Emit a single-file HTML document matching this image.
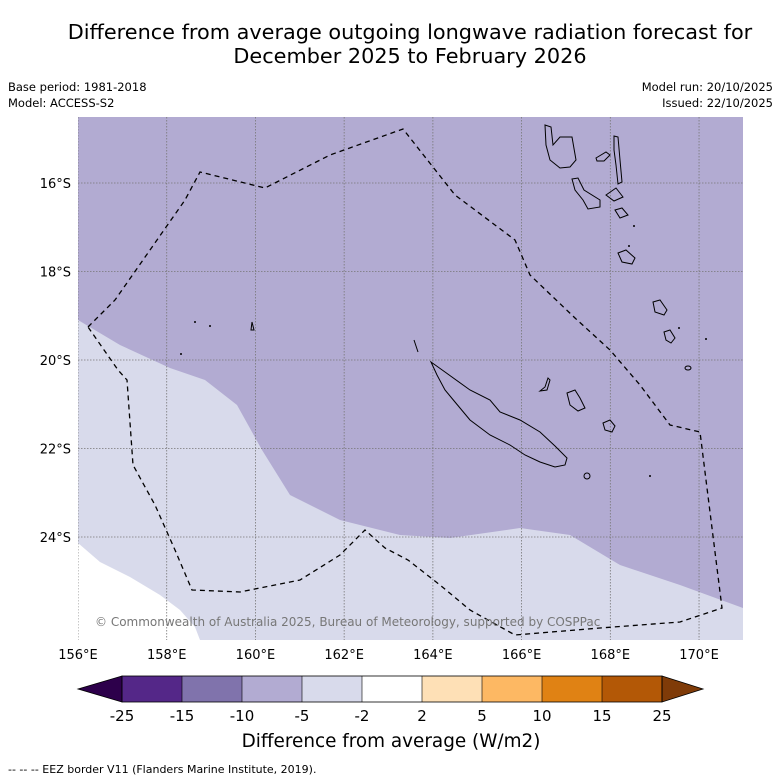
<!DOCTYPE html>
<html><head><meta charset="utf-8"><style>
html,body{margin:0;padding:0;background:#fff;overflow:hidden;font-family:"Liberation Sans","DejaVu Sans",sans-serif}
svg{display:block}
svg text{font-family:"DejaVu Sans","Liberation Sans",sans-serif}
</style></head><body>
<svg width="781" height="781" viewBox="0 0 781 781">
<text x="410" y="39" text-anchor="middle" font-size="20.8">Difference from average outgoing longwave radiation forecast for</text>
<text x="410" y="63" text-anchor="middle" font-size="20.8">December 2025 to February 2026</text>
<text x="8" y="91" font-size="11.5">Base period: 1981-2018</text>
<text x="8" y="107" font-size="11.5">Model: ACCESS-S2</text>
<text x="773" y="91" font-size="11.5" text-anchor="end">Model run: 20/10/2025</text>
<text x="773" y="107" font-size="11.5" text-anchor="end">Issued: 22/10/2025</text>
<defs><clipPath id="mc"><rect x="78" y="117" width="665" height="523"/></clipPath></defs>
<g clip-path="url(#mc)">
<rect x="78" y="117" width="665" height="523" fill="#b2abd2"/>
<path d="M78,320 L120,345 L170,368 L205,380 L237,405 L262,450 L290,495 L340,520 L400,535 L450,538 L520,528 L570,535 L620,565 L680,585 L743,608 L743,640 L78,640Z" fill="#d8daeb"/>
<path d="M78,543 L100,562 L130,577 L160,595 L180,610 L195,627 L200,640 L78,640Z" fill="#ffffff"/>
<g stroke="#777" stroke-width="0.8" stroke-dasharray="1.5,1.5" id="grid"></g>
<g fill="none" stroke="#000" stroke-width="1">
<path d="M431,362 L445,372 L470,390 L490,400 L500,412 L520,420 L540,432 L555,446 L567,458 L565,465 L555,467 L540,462 L525,455 L510,445 L490,435 L470,420 L455,402 L445,390 L437,375Z"/>
<path d="M414,340 L418,352"/>
<path d="M545,125 L551,127 L553,145 L560,137 L572,137 L576,160 L570,167 L560,168 L550,160 L546,145Z"/>
<path d="M572,179 L578,178 L584,190 L600,200 L600,207 L588,209 L583,200 L575,190Z"/>
<path d="M614,136 L618,137 L620,160 L622,182 L618,184 L616,165 L614,150Z"/>
<path d="M596,158 L606,152 L610,155 L604,161 L597,161Z"/>
<path d="M606,195 L616,188 L623,197 L614,201Z"/>
<path d="M615,210 L622,208 L628,215 L620,218Z"/>
<path d="M618,253 L626,250 L635,258 L632,264 L622,262Z"/>
<path d="M653,302 L660,300 L667,310 L664,315 L655,312Z"/>
<path d="M664,332 L670,330 L675,338 L671,343 L666,340Z"/>
<ellipse cx="688" cy="368" rx="3" ry="2"/>
<path d="M540,391 L545,387 L548,378 L550,380 L547,390Z"/>
<path d="M567,393 L575,390 L580,398 L585,408 L578,411 L570,405Z"/>
<path d="M603,423 L610,420 L615,426 L612,432 L605,430Z"/>
<ellipse cx="587" cy="476" rx="3" ry="3"/>
<path d="M252,322 L254,330 L251,330Z"/>
</g>
<g fill="#000">
<circle cx="195" cy="322" r="1"/><circle cx="210" cy="326" r="1"/><circle cx="181" cy="354" r="1"/><circle cx="706" cy="339" r="1"/><circle cx="679" cy="328" r="1"/><circle cx="650" cy="476" r="1"/><circle cx="629" cy="246" r="1"/><circle cx="634" cy="226" r="1"/>
</g>
<path d="M88,327 L115,300 L150,250 L185,200 L200,172 L265,188 L330,155 L403,129 L455,195 L515,240 L530,275 L575,318 L610,350 L640,385 L670,425 L700,432 L722,608 L680,622 L600,628 L515,635 L470,610 L440,585 L408,560 L385,548 L365,530 L340,555 L300,580 L240,592 L192,590 L175,550 L155,505 L133,465 L127,380 L118,370Z" fill="none" stroke="#000" stroke-width="1.3" stroke-dasharray="5,4"/>
<text x="95" y="626" font-size="12" fill="#777">© Commonwealth of Australia 2025, Bureau of Meteorology, supported by COSPPac</text>
</g>
<g id="axes" font-size="13"></g>
<g id="cbar"></g>
<text x="391" y="747" text-anchor="middle" font-size="18.4">Difference from average (W/m2)</text>
<text x="8" y="773" font-size="11">--  --  -- EEZ border V11 (Flanders Marine Institute, 2019).</text>
</svg>
<script>
const lonTicks=[156,158,160,162,164,166,168,170];
const latTicks=[16,18,20,22,24];
const levels=["-25","-15","-10","-5","-2","2","5","10","15","25"];
const colors=["#542788","#8073ac","#b2abd2","#d8daeb","#ffffff","#fee0b6","#fdb863","#e08214","#b35806"];
const ns="http://www.w3.org/2000/svg";
const xOf=lon=>78+(lon-156)*44.36;
const yOf=lat=>183+(lat-16)*44.25;
function mk(t,a,p){const e=document.createElementNS(ns,t);for(const k in a)e.setAttribute(k,a[k]);p.appendChild(e);return e;}
const grid=document.getElementById('grid'),axes=document.getElementById('axes'),cb=document.getElementById('cbar');
lonTicks.forEach(l=>{const x=xOf(l);
 const g=mk('line',{x1:x,y1:117,x2:x,y2:640},grid);
 
 
 const t=mk('text',{x:x,y:659,'text-anchor':'middle'},axes);t.textContent=l+'°E';
 
 });
latTicks.forEach(l=>{const y=yOf(l);
 const g=mk('line',{x1:78,y1:y,x2:743,y2:y},grid);
 
 
 const t=mk('text',{x:71,y:y+5,'text-anchor':'end'},axes);t.textContent=l+'°S';
 
 });
const bx=122,bw=60,by=676,bh=26;
const lt=mk('polygon',{points:`78,689 ${bx},${by} ${bx},${by+bh}`,fill:'#2d004b',stroke:'#000','stroke-width':0.8},cb);


colors.forEach((c,i)=>{const r=mk('rect',{x:bx+i*bw,y:by,width:bw,height:bh,fill:c},cb);
 
 });
const e=bx+colors.length*bw;
const rt=mk('polygon',{points:`${e},${by} 703,689 ${e},${by+bh}`,fill:'#7f3b08',stroke:'#000','stroke-width':0.8},cb);


mk('rect',{x:bx,y:by,width:colors.length*bw,height:bh,fill:'none',stroke:'#000','stroke-width':0.8},cb);
levels.forEach((v,i)=>{const x=bx+i*bw;
 mk('line',{x1:x,y1:by,x2:x,y2:by+bh,stroke:'#000','stroke-width':0.6},cb);
 const t=mk('text',{x:x,y:721,'text-anchor':'middle','font-size':15},cb);t.textContent=v;
 
 });
</script>
</body></html>
